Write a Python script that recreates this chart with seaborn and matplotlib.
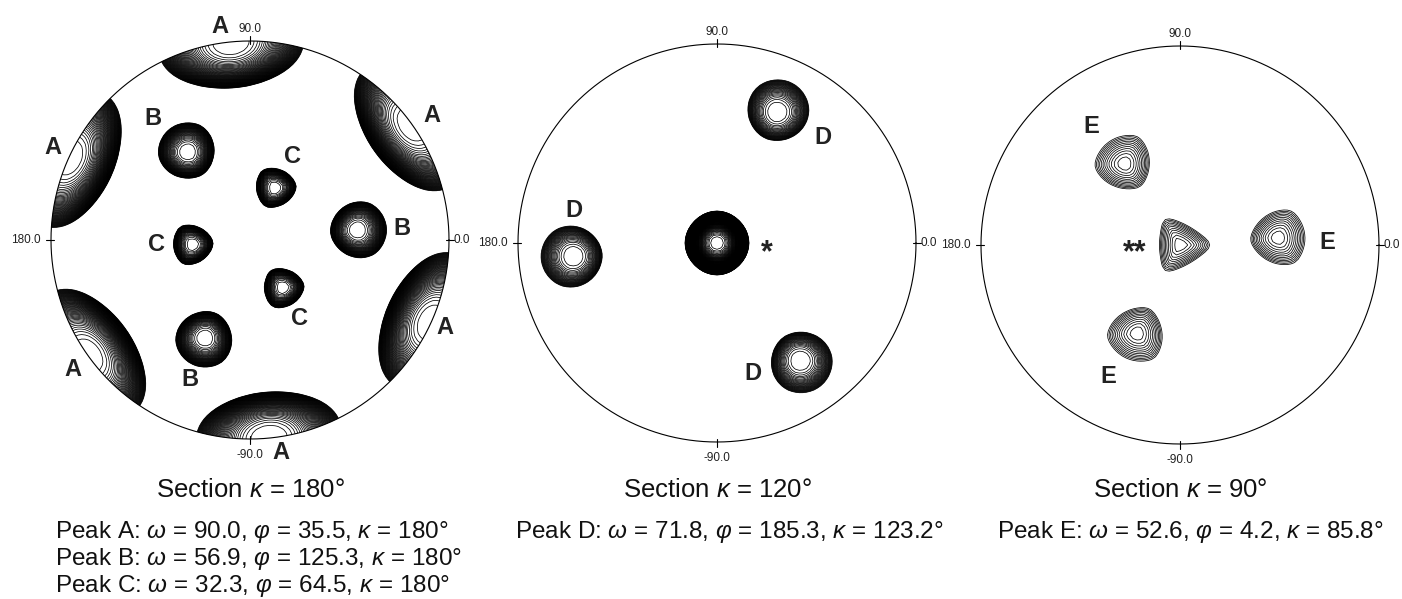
import numpy as np
import pandas as pd
import matplotlib
matplotlib.use("Agg")
import matplotlib.pyplot as plt
from matplotlib.patches import Circle
import seaborn as sns

# ---------------- data ----------------
# Section kappa = 180
sec1_names = ["A", "A", "A", "A", "A", "A", "B", "B", "B", "C", "C", "C"]
sec1_omega = [90.0, 90.0, 90.0, 90.0, 90.0, 90.0, 56.9, 56.9, 56.9, 32.3, 32.3, 32.3]
sec1_phi = [35.5, 95.5, 155.5, 215.5, 275.5, 335.5, 125.3, 245.3, 5.3, 64.5, 184.5, 304.5]
sec1_height = [62, 62, 62, 62, 62, 62, 40, 40, 40, 34, 34, 34]
sec1_wt = [21.0] * 6 + [12.3] * 3 + [10.0] * 3
sec1_wr = [15.0] * 6 + [12.3] * 3 + [10.0] * 3
sec1_tri = [0.0] * 6 + [0.1] * 3 + [0.3] * 3
sec1_tri_dir = [0.0] * 6 + [305.3, 65.3, 185.3, 244.5, 4.5, 124.5]
sec1_shape_p = [3.0] * 12

# Section kappa = 120
sec2_names = ["*", "D", "D", "D"]
sec2_omega = [0.0, 71.8, 71.8, 71.8]
sec2_phi = [0.0, 185.3, 305.3, 65.3]
sec2_height = [110, 30, 30, 30]
sec2_wt = [18.3, 11.5, 11.5, 11.5]
sec2_wr = [18.3, 11.5, 11.5, 11.5]
sec2_tri = [0.0, 0.05, 0.05, 0.05]
sec2_tri_dir = [0.0, 5.3, 125.3, 245.3]
sec2_shape_p = [3.0, 3.0, 3.0, 3.0]

# Section kappa = 90
sec3_names = ["**", "E", "E", "E"]
sec3_omega = [0.0, 52.6, 52.6, 52.6]
sec3_phi = [0.0, 4.2, 124.2, 244.2]
sec3_height = [12, 13, 13, 13]
sec3_wt = [12.4, 12.3, 12.3, 12.3]
sec3_wr = [12.4, 12.3, 12.3, 12.3]
sec3_tri = [0.75, 0.3, 0.3, 0.3]
sec3_tri_dir = [0.0, 184.2, 304.2, 64.2]
sec3_shape_p = [1.8, 1.8, 1.8, 1.8]

section_titles = ["Section $\\kappa$ = 180°", "Section $\\kappa$ = 120°", "Section $\\kappa$ = 90°"]
peak_lines = [
    ["Peak A: $\\omega$ = 90.0, $\\varphi$ = 35.5, $\\kappa$ = 180°",
     "Peak B: $\\omega$ = 56.9, $\\varphi$ = 125.3, $\\kappa$ = 180°",
     "Peak C: $\\omega$ = 32.3, $\\varphi$ = 64.5, $\\kappa$ = 180°"],
    ["Peak D: $\\omega$ = 71.8, $\\varphi$ = 185.3, $\\kappa$ = 123.2°"],
    ["Peak E: $\\omega$ = 52.6, $\\varphi$ = 4.2, $\\kappa$ = 85.8°"],
]
tick_angles = [0, 90, 180, 270]
tick_texts = ["0.0", "90.0", "180.0", "-90.0"]

# label offsets (pixels, x right / y down) from each peak's projected centre
sec1_lab_off = [(20, -9), (-11, -15), (-16, -10), (-15, 14), (12, 14), (14, 5),
                (-35, -34), (-15, 42), (45, -2),
                (18, -31), (-36, 0), (17, 31)]
sec2_lab_off = [(50, 10), (0, -46), (-47, 13), (46, 25)]
sec3_lab_off = [(-45, 8), (49, 5), (-33, -37), (-29, 43)]

# ---------------- layout ----------------
W, H = 1402, 599
R = 199.0
L = 1.14
centres = [(250, 240), (717, 243), (1180, 245)]
text_left = [55, 515, 997]
title_y = 490
line_y0, line_dy = 532, 27

sns.set_theme(style="white")
plt.rcParams["font.family"] = ["Liberation Sans", "DejaVu Sans"]
plt.rcParams["mathtext.fontset"] = "custom"
plt.rcParams["mathtext.it"] = "Liberation Sans:italic"
plt.rcParams["mathtext.rm"] = "Liberation Sans"

fig = plt.figure(figsize=(W / 100, H / 100), dpi=100)
fig.patch.set_facecolor("white")

grid = np.linspace(-1.08, 1.08, 121)
X, Y = np.meshgrid(grid, grid)
rho = np.hypot(X, Y)
wg = 2 * np.arctan(rho)
azg = np.arctan2(Y, X)
V = np.stack([np.sin(wg) * np.cos(azg), np.sin(wg) * np.sin(azg), np.cos(wg)])


def field(omega, phi, height, wt, wr, tri, tri_dir, shape_p):
    F = np.full_like(X, -1e6)
    for o, p, h, a_t, a_r, beta, td, pw in zip(omega, phi, height, wt, wr, tri, tri_dir, shape_p):
        o, p = np.radians(o), np.radians(p)
        pv = np.array([np.sin(o) * np.cos(p), np.sin(o) * np.sin(p), np.cos(o)])
        et = np.array([-np.sin(p), np.cos(p), 0.0])
        er = np.array([np.cos(o) * np.cos(p), np.cos(o) * np.sin(p), -np.sin(o)])
        c = np.tensordot(pv, V, axes=1)
        a = np.tensordot(et, V, axes=1)
        b = np.tensordot(er, V, axes=1)
        dt = np.arctan2(a, c)
        dr = np.arctan2(b, c)
        s = np.sqrt((dt / np.radians(a_t)) ** 2 + (dr / np.radians(a_r)) ** 2)
        # rounded-triangle shape factor, vertex pointing towards tri_dir
        px, py = np.tan(o / 2) * np.cos(p), np.tan(o / 2) * np.sin(p)
        th = np.arctan2(Y - py, X - px)
        tv = np.radians(td)
        g = np.zeros_like(X)
        for k in range(3):
            nk = tv + np.pi + k * 2 * np.pi / 3
            g += np.clip(np.cos(th - nk), 0, None) ** 4
        g = g ** 0.25
        s = s * ((1 - beta) + beta * g)
        f = h * (1 - s ** pw)          # no clipping: keeps the outer contour smooth
        F = np.maximum(F, f)
    return F


sections = [
    (sec1_names, sec1_omega, sec1_phi, sec1_height, sec1_wt, sec1_wr, sec1_tri, sec1_tri_dir, sec1_shape_p, sec1_lab_off),
    (sec2_names, sec2_omega, sec2_phi, sec2_height, sec2_wt, sec2_wr, sec2_tri, sec2_tri_dir, sec2_shape_p, sec2_lab_off),
    (sec3_names, sec3_omega, sec3_phi, sec3_height, sec3_wt, sec3_wr, sec3_tri, sec3_tri_dir, sec3_shape_p, sec3_lab_off),
]

levels = np.arange(1, 200, 1)
t = np.linspace(0, 2 * np.pi, 721)
circle_df = pd.DataFrame({"x": np.cos(t), "y": np.sin(t)})

for i, (names, om, ph, hh, wt, wr, tri, tdir, spw, loff) in enumerate(sections):
    cx, cy = centres[i]
    ax = fig.add_axes([(cx - L * R) / W, 1 - (cy + L * R) / H, 2 * L * R / W, 2 * L * R / H])
    ax.set_xlim(-L, L)
    ax.set_ylim(-L, L)
    ax.axis("off")
    ax.patch.set_alpha(0)

    F = field(om, ph, hh, wt, wr, tri, tdir, spw)
    cs = ax.contour(X, Y, F, levels=levels, colors="black", linewidths=0.55)
    clip = Circle((0, 0), 1.0, transform=ax.transData)
    cs.set_clip_path(clip)

    sns.lineplot(data=circle_df, x="x", y="y", sort=False, estimator=None,
                 color="black", linewidth=0.8, ax=ax, legend=False)
    ax.set_xlabel("")
    ax.set_ylabel("")

    for ang, txt in zip(tick_angles, tick_texts):
        ar = np.radians(ang)
        ax.plot([0.985 * np.cos(ar), 1.025 * np.cos(ar)], [0.985 * np.sin(ar), 1.025 * np.sin(ar)],
                color="black", lw=0.8)
        if ang == 0:
            ax.text(1 + 5 / R, 0, txt, ha="left", va="center", fontsize=8.5, color="#222222")
        elif ang == 180:
            ax.text(-1 - 10 / R, 0, txt, ha="right", va="center", fontsize=8.5, color="#222222")
        elif ang == 90:
            ax.text(0, 1 + 6 / R, txt, ha="center", va="bottom", fontsize=8.5, color="#222222")
        else:
            ax.text(0, -1 - 10 / R, txt, ha="center", va="top", fontsize=8.5, color="#222222")

    for name, o, p, (dx, dy) in zip(names, om, ph, loff):
        r = np.tan(np.radians(o) / 2)
        px, py = r * np.cos(np.radians(p)), r * np.sin(np.radians(p))
        fs = 22 if "*" in name else 17
        ax.text(px + dx / R, py - dy / R, name, ha="center", va="center",
                fontsize=fs, fontweight="bold", color="#222222")

    fig.text(cx / W, 1 - title_y / H, section_titles[i], ha="center", va="center",
             fontsize=18.5, color="#111111")
    for k, line in enumerate(peak_lines[i]):
        fig.text(text_left[i] / W, 1 - (line_y0 + k * line_dy) / H, line, ha="left",
                 va="center", fontsize=17.5, color="#111111")

fig.savefig("out.png", dpi=100, facecolor="white")
